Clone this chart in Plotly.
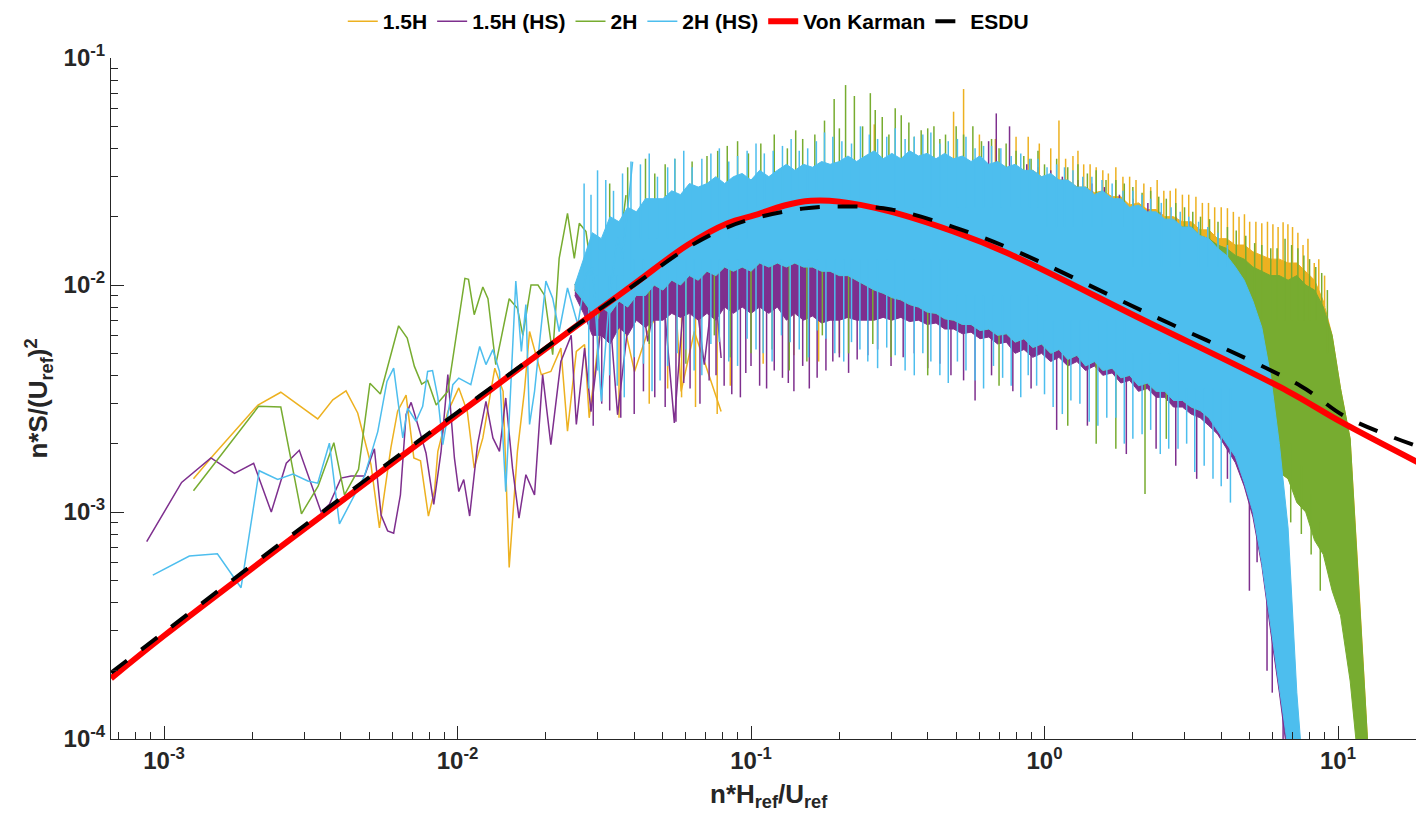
import plotly.graph_objects as go

# ---------------- data ----------------
# low-frequency (sparse) parts of each measured spectrum
x_15h = [1.26e-3, 1.48e-3, 2.09e-3, 2.50e-3, 3.34e-3, 3.76e-3, 4.17e-3, 4.57e-3, 5.07e-3, 5.42e-3,
         5.93e-3, 6.25e-3, 6.68e-3, 7.10e-3, 7.48e-3, 7.96e-3, 8.35e-3, 8.57e-3, 9.27e-3, 1.01e-2,
         1.08e-2, 1.14e-2, 1.22e-2, 1.34e-2, 1.43e-2, 1.50e-2, 1.60e-2, 1.69e-2, 1.76e-2, 1.93e-2,
         2.08e-2, 2.25e-2, 2.37e-2, 2.54e-2, 2.71e-2, 2.81e-2, 3.09e-2, 3.34e-2, 3.61e-2, 4.01e-2,
         4.45e-2, 4.94e-2, 5.48e-2, 5.78e-2, 6.41e-2, 7.91e-2]
y_15h = [1.40e-3, 1.79e-3, 2.96e-3, 3.37e-3, 2.57e-3, 3.12e-3, 3.42e-3, 2.73e-3, 1.62e-3, 8.51e-4,
         1.92e-3, 2.78e-3, 3.27e-3, 1.73e-3, 1.68e-3, 9.59e-4, 1.24e-3, 1.85e-3, 2.77e-3, 3.52e-3,
         2.77e-3, 1.56e-3, 2.12e-3, 4.30e-3, 3.40e-3, 5.70e-4, 1.85e-3, 3.40e-3, 6.24e-3, 4.03e-3,
         4.16e-3, 5.27e-3, 2.27e-3, 5.10e-3, 5.46e-3, 2.60e-3, 7.10e-3, 6.70e-3, 7.60e-3, 4.16e-3,
         6.24e-3, 7.90e-3, 1.04e-2, 3.40e-3, 6.24e-3, 2.77e-3]

x_15h_hs = [8.73e-4, 1.148e-3, 1.445e-3, 1.738e-3, 2.02e-3, 2.32e-3, 2.61e-3, 2.89e-3, 3.43e-3, 3.66e-3,
            4.01e-3, 4.34e-3, 4.82e-3, 5.21e-3, 5.49e-3, 5.78e-3, 6.06e-3, 6.39e-3, 6.68e-3, 6.95e-3,
            7.32e-3, 7.81e-3, 8.30e-3, 8.79e-3, 9.27e-3, 9.76e-3, 1.01e-2, 1.05e-2, 1.10e-2, 1.17e-2,
            1.25e-2, 1.32e-2, 1.39e-2, 1.46e-2, 1.54e-2, 1.62e-2, 1.71e-2, 1.83e-2, 1.95e-2, 2.08e-2,
            2.25e-2, 2.44e-2, 2.54e-2, 2.71e-2, 2.85e-2, 3.09e-2, 3.29e-2, 3.51e-2, 3.80e-2, 4.22e-2,
            4.45e-2, 4.81e-2, 5.07e-2, 5.48e-2, 5.93e-2, 6.41e-2, 6.93e-2, 7.50e-2, 7.91e-2]
y_15h_hs = [7.4e-4, 1.35e-3, 1.73e-3, 1.48e-3, 1.64e-3, 1.00e-3, 1.64e-3, 1.87e-3, 1.00e-3, 1.08e-3,
            1.41e-3, 1.44e-3, 1.44e-3, 1.90e-3, 9.7e-4, 8.26e-4, 8.07e-4, 1.19e-3, 2.69e-3, 3.04e-3,
            2.43e-3, 1.82e-3, 1.08e-3, 1.85e-3, 4.03e-3, 1.73e-3, 1.23e-3, 1.39e-3, 9.6e-4, 1.98e-3,
            3.07e-3, 2.12e-3, 1.85e-3, 3.18e-3, 1.56e-3, 9.4e-4, 1.46e-3, 1.19e-3, 4.03e-3, 1.98e-3,
            4.60e-3, 6.00e-3, 2.43e-3, 5.27e-3, 2.77e-3, 6.70e-3, 7.90e-3, 2.68e-3, 6.46e-3, 9.35e-3,
            5.64e-3, 1.00e-2, 7.90e-3, 2.47e-3, 9.35e-3, 1.00e-2, 4.46e-3, 1.07e-2, 4.77e-3]

x_2h = [1.26e-3, 2.10e-3, 2.50e-3, 2.94e-3, 3.35e-3, 3.79e-3, 4.12e-3, 4.60e-3, 5.03e-3, 5.46e-3,
        6.30e-3, 6.74e-3, 7.13e-3, 7.55e-3, 7.91e-3, 8.46e-3, 9.27e-3, 1.00e-2, 1.06e-2, 1.09e-2,
        1.14e-2, 1.22e-2, 1.27e-2, 1.35e-2, 1.50e-2, 1.60e-2, 1.67e-2, 1.78e-2, 1.88e-2, 1.98e-2,
        2.11e-2, 2.22e-2, 2.37e-2, 2.50e-2, 2.60e-2, 2.74e-2, 2.85e-2, 3.01e-2, 3.34e-2, 3.56e-2,
        3.75e-2]
y_2h = [1.24e-3, 2.92e-3, 2.90e-3, 9.82e-4, 1.30e-3, 2.02e-3, 1.19e-3, 1.54e-3, 3.69e-3, 3.31e-3,
        6.61e-3, 5.83e-3, 4.38e-3, 3.66e-3, 3.80e-3, 2.96e-3, 3.40e-3, 6.70e-3, 1.07e-2, 1.06e-2,
        7.40e-3, 9.80e-3, 8.70e-3, 4.46e-3, 8.70e-3, 7.90e-3, 6.00e-3, 1.00e-2, 1.00e-2, 9.00e-3,
        4.93e-3, 1.31e-2, 2.07e-2, 1.31e-2, 1.87e-2, 1.72e-2, 1.19e-2, 7.10e-3, 1.31e-2, 1.45e-2,
        2.49e-2]

x_2h_hs = [9.16e-4, 1.22e-3, 1.52e-3, 1.83e-3, 2.11e-3, 2.44e-3, 2.75e-3, 3.09e-3, 3.34e-3, 3.66e-3,
           3.96e-3, 4.34e-3, 4.82e-3, 5.35e-3, 5.75e-3, 6.06e-3, 6.51e-3, 6.76e-3, 7.22e-3, 7.61e-3,
           7.91e-3, 8.22e-3, 8.57e-3, 8.91e-3, 9.64e-3, 1.01e-2, 1.11e-2, 1.19e-2, 1.25e-2, 1.32e-2,
           1.39e-2, 1.46e-2, 1.58e-2, 1.65e-2, 1.71e-2, 1.76e-2, 1.83e-2, 2.00e-2, 2.11e-2, 2.22e-2,
           2.37e-2, 2.57e-2, 2.74e-2, 2.89e-2, 3.09e-2, 3.29e-2, 3.51e-2, 3.65e-2, 3.95e-2]
y_2h_hs = [5.27e-4, 6.40e-4, 6.55e-4, 4.64e-4, 1.52e-3, 1.39e-3, 1.47e-3, 1.37e-3, 1.34e-3, 2.01e-3,
           8.87e-4, 1.12e-3, 1.44e-3, 2.26e-3, 3.76e-3, 4.30e-3, 2.12e-3, 2.87e-3, 2.51e-3, 2.92e-3,
           4.16e-3, 4.20e-3, 3.20e-3, 1.98e-3, 3.64e-3, 3.89e-3, 3.64e-3, 5.36e-3, 4.46e-3, 5.19e-3,
           4.16e-3, 1.23e-3, 1.04e-2, 5.10e-3, 8.20e-3, 2.43e-3, 3.40e-3, 1.04e-2, 8.75e-3, 6.24e-3,
           9.70e-3, 6.70e-3, 1.11e-2, 1.19e-2, 3.07e-3, 8.75e-3, 1.61e-2, 1.31e-2, 3.49e-2]

# dense (high-frequency) parts: solid-core upper/lower bounds on a frequency grid
freq_grid = [0.0251, 0.0269, 0.0288, 0.0309, 0.0331, 0.0355, 0.0380, 0.0407, 0.0437, 0.0468,
             0.0501, 0.0537, 0.0575, 0.0617, 0.0661, 0.0708, 0.0759, 0.0813, 0.0871, 0.0933,
             0.100, 0.107, 0.115, 0.123, 0.132, 0.141, 0.151, 0.162, 0.174, 0.186,
             0.200, 0.214, 0.229, 0.245, 0.263, 0.282, 0.302, 0.324, 0.347, 0.372,
             0.398, 0.427, 0.457, 0.490, 0.525, 0.562, 0.603, 0.646, 0.692, 0.741,
             0.794, 0.851, 0.912, 0.977, 1.05, 1.12, 1.20, 1.29, 1.38, 1.48,
             1.58, 1.70, 1.82, 1.95, 2.09, 2.24, 2.40, 2.57, 2.75, 2.95,
             3.16, 3.39, 3.63, 3.89, 4.17, 4.47, 4.79, 5.13, 5.50, 5.89,
             6.31, 6.76, 7.24, 7.76, 8.32, 8.91, 9.55, 10.2, 11.0, 11.7,
             12.6, 13.5]

hi_15h = [9.5e-3, 1.1e-2, 1.2e-2, 1.2e-2, 1.4e-2, 1.3e-2, 1.5e-2, 1.4e-2, 1.6e-2, 1.5e-2,
          1.7e-2, 1.6e-2, 1.8e-2, 1.7e-2, 1.9e-2, 1.8e-2, 2.0e-2, 1.9e-2, 2.1e-2, 2.0e-2,
          2.2e-2, 2.1e-2, 2.3e-2, 2.2e-2, 2.4e-2, 2.3e-2, 2.5e-2, 2.4e-2, 2.6e-2, 2.5e-2,
          2.7e-2, 2.6e-2, 2.8e-2, 2.7e-2, 2.9e-2, 2.8e-2, 3.0e-2, 2.9e-2, 3.1e-2, 3.0e-2,
          3.2e-2, 3.1e-2, 3.2e-2, 3.2e-2, 3.3e-2, 3.2e-2, 3.3e-2, 3.2e-2, 3.3e-2, 3.2e-2,
          3.3e-2, 3.1e-2, 3.2e-2, 3.0e-2, 3.05e-2, 2.9e-2, 2.9e-2, 2.7e-2, 2.7e-2, 2.55e-2,
          2.6e-2, 2.45e-2, 2.45e-2, 2.25e-2, 2.3e-2, 2.15e-2, 2.15e-2, 2.0e-2, 2.0e-2, 1.9e-2,
          1.9e-2, 1.75e-2, 1.75e-2, 1.6e-2, 1.6e-2, 1.5e-2, 1.5e-2, 1.4e-2, 1.35e-2, 1.3e-2,
          1.3e-2, 1.25e-2, 1.25e-2, 1.15e-2, 1.05e-2, 8.5e-3, 6.0e-3, 3.5e-3, 2.1e-3, 5.5e-4,
          1.0e-4, 4e-5]
lo_15h = [9.5e-3, 8.0e-3, 6.3e-3, 6.3e-3, 5.8e-3, 6.8e-3, 6.3e-3, 7.3e-3, 6.8e-3, 7.3e-3,
          7.3e-3, 7.8e-3, 7.5e-3, 7.8e-3, 7.3e-3, 7.8e-3, 7.3e-3, 8.4e-3, 7.8e-3, 8.4e-3,
          7.8e-3, 8.4e-3, 7.8e-3, 8.4e-3, 7.3e-3, 7.8e-3, 7.3e-3, 7.6e-3, 7.1e-3, 7.3e-3,
          7.3e-3, 7.5e-3, 7.3e-3, 7.3e-3, 7.3e-3, 7.5e-3, 7.3e-3, 7.5e-3, 7.2e-3, 7.3e-3,
          7.0e-3, 7.1e-3, 6.7e-3, 6.7e-3, 6.4e-3, 6.5e-3, 6.0e-3, 6.1e-3, 5.7e-3, 5.8e-3,
          5.3e-3, 5.5e-3, 5.0e-3, 5.3e-3, 4.8e-3, 5.0e-3, 4.6e-3, 4.8e-3, 4.4e-3, 4.6e-3,
          4.2e-3, 4.3e-3, 3.9e-3, 4.0e-3, 3.6e-3, 3.7e-3, 3.4e-3, 3.4e-3, 3.0e-3, 3.0e-3,
          2.8e-3, 2.7e-3, 2.5e-3, 2.3e-3, 2.0e-3, 1.8e-3, 1.7e-3, 1.6e-3, 1.6e-3, 1.5e-3,
          1.5e-3, 1.4e-3, 1.15e-3, 1.05e-3, 8.0e-4, 7.0e-4, 5.0e-4, 3.8e-4, 2.0e-4, 9e-5,
          5e-5, 4e-5]

hi_15h_hs = [1.0e-2, 1.1e-2, 1.2e-2, 1.3e-2, 1.3e-2, 1.4e-2, 1.5e-2, 1.5e-2, 1.6e-2, 1.7e-2,
             1.7e-2, 1.8e-2, 1.9e-2, 1.9e-2, 2.0e-2, 2.1e-2, 2.1e-2, 2.2e-2, 2.3e-2, 2.3e-2,
             2.4e-2, 2.4e-2, 2.5e-2, 2.5e-2, 2.6e-2, 2.6e-2, 2.7e-2, 2.7e-2, 2.8e-2, 2.8e-2,
             2.9e-2, 2.9e-2, 3.0e-2, 3.0e-2, 3.1e-2, 3.1e-2, 3.1e-2, 3.2e-2, 3.2e-2, 3.2e-2,
             3.2e-2, 3.2e-2, 3.2e-2, 3.2e-2, 3.2e-2, 3.2e-2, 3.2e-2, 3.2e-2, 3.2e-2, 3.2e-2,
             3.1e-2, 3.0e-2, 2.9e-2, 2.8e-2, 2.8e-2, 2.7e-2, 2.6e-2, 2.5e-2, 2.5e-2, 2.4e-2,
             2.3e-2, 2.3e-2, 2.2e-2, 2.1e-2, 2.1e-2, 2.0e-2, 1.95e-2, 1.85e-2, 1.8e-2, 1.7e-2,
             1.65e-2, 1.55e-2, 1.5e-2, 1.35e-2, 1.25e-2, 1.1e-2, 9.5e-3, 7.5e-3, 5.0e-3, 3.0e-3,
             1.4e-3, 4.0e-4, 6e-5]
lo_15h_hs = [9.0e-3, 7.5e-3, 6.0e-3, 6.0e-3, 5.5e-3, 6.5e-3, 6.0e-3, 7.0e-3, 6.5e-3, 7.0e-3,
             7.0e-3, 7.5e-3, 7.2e-3, 7.5e-3, 7.0e-3, 7.5e-3, 7.0e-3, 8.0e-3, 7.5e-3, 8.0e-3,
             7.5e-3, 8.0e-3, 7.5e-3, 8.0e-3, 7.0e-3, 7.5e-3, 7.0e-3, 7.3e-3, 6.8e-3, 7.0e-3,
             7.0e-3, 7.2e-3, 7.0e-3, 7.0e-3, 7.0e-3, 7.2e-3, 7.0e-3, 7.2e-3, 6.9e-3, 7.0e-3,
             6.7e-3, 6.8e-3, 6.4e-3, 6.4e-3, 6.1e-3, 6.2e-3, 5.8e-3, 5.9e-3, 5.5e-3, 5.6e-3,
             5.0e-3, 5.2e-3, 4.8e-3, 5.0e-3, 4.6e-3, 4.8e-3, 4.4e-3, 4.6e-3, 4.2e-3, 4.4e-3,
             4.0e-3, 4.1e-3, 3.7e-3, 3.8e-3, 3.4e-3, 3.5e-3, 3.2e-3, 3.2e-3, 2.9e-3, 2.9e-3,
             2.7e-3, 2.6e-3, 2.4e-3, 2.2e-3, 1.9e-3, 1.65e-3, 1.3e-3, 9.5e-4, 5.8e-4, 3.0e-4,
             1.6e-4, 8e-5, 5e-5]

hi_2h = [1.0e-2, 1.2e-2, 1.6e-2, 1.5e-2, 1.9e-2, 1.8e-2, 2.1e-2, 2.0e-2, 2.3e-2, 2.3e-2,
         2.3e-2, 2.5e-2, 2.4e-2, 2.7e-2, 2.6e-2, 2.7e-2, 2.9e-2, 2.7e-2, 2.9e-2, 3.0e-2,
         2.8e-2, 3.1e-2, 2.9e-2, 3.1e-2, 3.3e-2, 3.1e-2, 3.3e-2, 3.2e-2, 3.4e-2, 3.3e-2,
         3.4e-2, 3.6e-2, 3.4e-2, 3.6e-2, 3.8e-2, 3.5e-2, 3.7e-2, 3.5e-2, 3.8e-2, 3.6e-2,
         3.7e-2, 3.5e-2, 3.7e-2, 3.5e-2, 3.6e-2, 3.4e-2, 3.6e-2, 3.3e-2, 3.4e-2, 3.2e-2,
         3.3e-2, 3.1e-2, 3.1e-2, 2.9e-2, 3.0e-2, 2.8e-2, 2.8e-2, 2.6e-2, 2.6e-2, 2.45e-2,
         2.5e-2, 2.35e-2, 2.35e-2, 2.15e-2, 2.2e-2, 2.05e-2, 2.05e-2, 1.9e-2, 1.9e-2, 1.8e-2,
         1.8e-2, 1.65e-2, 1.6e-2, 1.5e-2, 1.45e-2, 1.35e-2, 1.3e-2, 1.2e-2, 1.15e-2, 1.1e-2,
         1.1e-2, 1.05e-2, 1.1e-2, 1.0e-2, 9.5e-3, 8.0e-3, 6.0e-3, 3.5e-3, 2.1e-3, 5.5e-4,
         1.0e-4, 4e-5]
lo_2h = [9.5e-3, 8.5e-3, 7.5e-3, 8.0e-3, 7.5e-3, 8.5e-3, 8.0e-3, 9.0e-3, 9.0e-3, 1.0e-2,
         9.5e-3, 1.05e-2, 1.0e-2, 1.1e-2, 1.05e-2, 1.15e-2, 1.1e-2, 1.2e-2, 1.15e-2, 1.2e-2,
         1.15e-2, 1.25e-2, 1.2e-2, 1.25e-2, 1.2e-2, 1.25e-2, 1.2e-2, 1.2e-2, 1.15e-2, 1.15e-2,
         1.1e-2, 1.1e-2, 1.05e-2, 1.0e-2, 9.5e-3, 9.2e-3, 8.8e-3, 8.6e-3, 8.2e-3, 8.0e-3,
         7.6e-3, 7.5e-3, 7.1e-3, 7.0e-3, 6.7e-3, 6.7e-3, 6.3e-3, 6.4e-3, 6.0e-3, 6.1e-3,
         5.6e-3, 5.8e-3, 5.3e-3, 5.5e-3, 5.0e-3, 5.2e-3, 4.7e-3, 4.9e-3, 4.4e-3, 4.6e-3,
         4.2e-3, 4.3e-3, 3.9e-3, 4.0e-3, 3.6e-3, 3.7e-3, 3.4e-3, 3.4e-3, 3.1e-3, 3.1e-3,
         2.9e-3, 2.8e-3, 2.6e-3, 2.4e-3, 2.2e-3, 2.0e-3, 1.9e-3, 1.8e-3, 1.6e-3, 1.6e-3,
         1.5e-3, 1.4e-3, 1.1e-3, 1.0e-3, 7.5e-4, 6.5e-4, 4.5e-4, 3.5e-4, 1.8e-4, 8e-5,
         5e-5, 4e-5]

hi_2h_hs = [1.0e-2, 1.3e-2, 1.7e-2, 1.6e-2, 2.0e-2, 1.9e-2, 2.2e-2, 2.1e-2, 2.4e-2, 2.4e-2,
            2.4e-2, 2.6e-2, 2.5e-2, 2.8e-2, 2.7e-2, 2.8e-2, 3.0e-2, 2.8e-2, 3.0e-2, 3.1e-2,
            2.9e-2, 3.2e-2, 3.0e-2, 3.2e-2, 3.4e-2, 3.2e-2, 3.4e-2, 3.3e-2, 3.5e-2, 3.4e-2,
            3.5e-2, 3.7e-2, 3.5e-2, 3.7e-2, 3.9e-2, 3.6e-2, 3.8e-2, 3.6e-2, 3.9e-2, 3.7e-2,
            3.8e-2, 3.6e-2, 3.8e-2, 3.6e-2, 3.7e-2, 3.5e-2, 3.7e-2, 3.4e-2, 3.5e-2, 3.3e-2,
            3.4e-2, 3.2e-2, 3.2e-2, 3.0e-2, 3.1e-2, 2.9e-2, 2.9e-2, 2.7e-2, 2.7e-2, 2.5e-2,
            2.6e-2, 2.4e-2, 2.4e-2, 2.2e-2, 2.25e-2, 2.1e-2, 2.1e-2, 1.95e-2, 1.95e-2, 1.8e-2,
            1.8e-2, 1.65e-2, 1.6e-2, 1.45e-2, 1.35e-2, 1.2e-2, 1.05e-2, 8.5e-3, 6.5e-3, 4.0e-3,
            2.0e-3, 8.5e-4, 1.6e-4, 5e-5]
lo_2h_hs = [9.5e-3, 8.5e-3, 7.5e-3, 8.0e-3, 7.5e-3, 8.5e-3, 8.0e-3, 9.0e-3, 9.0e-3, 1.0e-2,
            9.5e-3, 1.05e-2, 1.0e-2, 1.1e-2, 1.05e-2, 1.15e-2, 1.1e-2, 1.2e-2, 1.15e-2, 1.2e-2,
            1.15e-2, 1.25e-2, 1.2e-2, 1.25e-2, 1.2e-2, 1.25e-2, 1.2e-2, 1.2e-2, 1.15e-2, 1.15e-2,
            1.1e-2, 1.1e-2, 1.05e-2, 1.0e-2, 9.5e-3, 9.2e-3, 8.8e-3, 8.6e-3, 8.2e-3, 8.0e-3,
            7.6e-3, 7.5e-3, 7.1e-3, 7.0e-3, 6.7e-3, 6.7e-3, 6.3e-3, 6.4e-3, 6.0e-3, 6.1e-3,
            5.6e-3, 5.8e-3, 5.3e-3, 5.5e-3, 5.0e-3, 5.2e-3, 4.7e-3, 4.9e-3, 4.4e-3, 4.6e-3,
            4.2e-3, 4.3e-3, 3.9e-3, 4.0e-3, 3.6e-3, 3.7e-3, 3.4e-3, 3.4e-3, 3.1e-3, 3.1e-3,
            2.9e-3, 2.8e-3, 2.6e-3, 2.3e-3, 2.0e-3, 1.75e-3, 1.35e-3, 1.0e-3, 6.0e-4, 3.2e-4,
            1.7e-4, 9e-5, 5e-5, 5e-5]

# single spikes sticking out of the dense bands (x, inner end, outer end)
top_15h_x = [0.263, 0.49, 0.53, 0.60, 0.68, 0.80, 0.88, 0.96, 1.05, 1.12,
             1.18, 1.25, 1.3, 1.36, 1.43, 1.5, 1.58, 1.65, 1.75, 1.85,
             1.95, 2.05, 2.18, 2.3, 2.42, 2.55, 2.68, 2.8, 2.95, 3.1,
             3.28, 3.45, 3.62, 3.8, 4.0, 4.2, 4.4, 4.6, 4.8, 5.0,
             5.25, 5.5, 5.75, 6.0, 6.25, 6.5, 6.75, 7.0, 7.3, 7.6,
             7.9, 8.3, 8.6, 9.0]
top_15h_in = ([2.5e-2] * 8 + [2.2e-2] * 7 + [2.0e-2] * 8 + [1.7e-2] * 6 + [1.5e-2] * 5
              + [1.3e-2] * 7 + [1.15e-2] * 6 + [1.0e-2] * 4 + [8e-3] * 3)
top_15h_out = [5.1e-2, 5.8e-2, 7.3e-2, 4.6e-2, 4.4e-2, 4.5e-2, 4.5e-2, 4.2e-2, 4.0e-2, 5.3e-2,
               3.6e-2, 3.7e-2, 3.9e-2, 3.4e-2, 3.4e-2, 3.3e-2, 3.2e-2, 3.1e-2, 3.3e-2, 3.0e-2,
               3.0e-2, 2.9e-2, 2.8e-2, 2.7e-2, 2.9e-2, 2.6e-2, 2.6e-2, 2.66e-2, 2.5e-2, 2.5e-2,
               2.45e-2, 2.3e-2, 2.3e-2, 2.2e-2, 2.2e-2, 2.18e-2, 2.1e-2, 2.0e-2, 2.05e-2, 1.9e-2,
               1.9e-2, 1.87e-2, 1.9e-2, 1.85e-2, 1.8e-2, 1.89e-2, 1.85e-2, 1.8e-2, 1.7e-2, 1.5e-2,
               1.6e-2, 1.25e-2, 1.3e-2, 1.1e-2]
bot_15h_x = [0.0355, 0.045, 0.052, 0.058, 0.0647, 0.0767, 0.085, 0.11, 0.14, 0.17, 0.2]
bot_15h_in = [9e-3] * 11
bot_15h_out = [2.6e-3, 3.0e-3, 3.5e-3, 3.2e-3, 2.9e-3, 2.7e-3, 3.6e-3, 4.5e-3, 4.9e-3, 4.6e-3, 5.0e-3]

top_15h_hs_x = [0.60, 0.645, 0.685, 0.76, 0.87, 0.95, 1.05, 1.15, 1.3, 1.45,
                1.6, 1.8, 2.0, 2.25, 2.5, 2.8, 3.1, 3.5]
top_15h_hs_in = [2.0e-2] * 8 + [1.6e-2] * 5 + [1.3e-2] * 5
top_15h_hs_out = [3.7e-2, 4.3e-2, 5.7e-2, 5.0e-2, 3.4e-2, 3.3e-2, 3.2e-2, 3.0e-2, 2.9e-2, 2.8e-2,
                  2.7e-2, 2.5e-2, 2.4e-2, 2.3e-2, 2.1e-2, 2.0e-2, 1.9e-2, 1.6e-2]
bot_15h_hs_x = [0.029, 0.033, 0.040, 0.047, 0.0555, 0.062, 0.072, 0.081, 0.092, 0.100,
                0.113, 0.128, 0.14, 0.158, 0.18, 0.2, 0.23, 0.27, 0.33, 0.40,
                0.48, 0.58, 0.66, 0.78, 0.9, 1.1, 1.4, 1.9, 2.4, 2.8,
                3.3, 4.2, 4.99, 5.3, 5.73, 5.97, 6.5,
                0.031, 0.036, 0.043, 0.051, 0.059, 0.067, 0.076, 0.086, 0.096, 0.107,
                0.12, 0.134, 0.15, 0.168, 0.19, 0.215, 0.25, 0.3, 0.36, 0.44, 0.53]
bot_15h_hs_in = ([9e-3] * 18 + [7.5e-3] * 4 + [6e-3] * 4 + [5e-3] * 2 + [3.8e-3] * 3
                 + [2.5e-3, 1.5e-3, 1.2e-3, 7e-4, 5e-4, 3e-4]
                 + [9e-3] * 18 + [7.5e-3] * 3)
bot_15h_hs_out = [2.4e-3, 2.8e-3, 2.7e-3, 3.2e-3, 2.5e-3, 3.5e-3, 3.8e-3, 3.6e-3, 3.2e-3, 4.4e-3,
                  3.5e-3, 3.9e-3, 3.4e-3, 3.5e-3, 4.2e-3, 4.8e-3, 4.7e-3, 5.2e-3, 4.8e-3, 4.3e-3,
                  4.0e-3, 3.1e-3, 4.0e-3, 3.4e-3, 3.5e-3, 2.3e-3, 2.4e-3, 1.8e-3, 1.9e-3, 1.6e-3,
                  1.4e-3, 1.4e-3, 4.5e-4, 6.0e-4, 2.0e-4, 1.6e-4, 9.0e-5,
                  3.0e-3, 2.6e-3, 3.4e-3, 2.9e-3, 3.7e-3, 3.0e-3, 4.0e-3, 3.3e-3, 4.1e-3, 3.6e-3,
                  4.2e-3, 3.7e-3, 4.4e-3, 3.9e-3, 4.6e-3, 4.1e-3, 4.9e-3, 4.4e-3, 5.0e-3, 4.5e-3, 3.8e-3]

top_2h_x = [0.0437, 0.047, 0.055, 0.0708, 0.083, 0.098, 0.12, 0.133, 0.15, 0.165,
            0.192, 0.210, 0.225, 0.24, 0.255, 0.28, 0.31, 0.345, 0.38, 0.42,
            0.46, 0.50, 0.57, 0.66, 0.74, 0.85, 0.95, 1.1, 1.3, 1.5,
            1.75, 2.0, 2.3, 2.6, 3.0, 3.4, 3.9, 4.5, 5.2, 5.9,
            6.6, 7.3, 8.0, 8.8,
            0.033, 0.038, 0.051, 0.063, 0.077, 0.09, 0.108, 0.142, 0.178, 0.2,
            0.265, 0.295, 0.325, 0.36, 0.4, 0.44, 0.53, 0.61, 0.7, 0.8,
            0.9, 1.0, 1.2, 1.4, 1.62, 1.87, 2.15, 2.45, 2.8, 3.2,
            3.65, 4.2, 4.85, 5.5, 6.2, 6.95, 7.65, 8.4, 9.2]
top_2h_in = ([1.8e-2] * 6 + [2.2e-2] * 21 + [1.8e-2] * 4 + [1.3e-2] * 6 + [7e-3] * 7
             + [1.5e-2] * 6 + [2.2e-2] * 15 + [1.8e-2] * 5 + [1.3e-2] * 5 + [7e-3] * 7 + [5e-3])
top_2h_out = [3.6e-2, 3.1e-2, 3.6e-2, 3.7e-2, 4.1e-2, 3.8e-2, 4.6e-2, 4.0e-2, 4.4e-2, 4.6e-2,
              6.6e-2, 7.6e-2, 6.8e-2, 5.0e-2, 7.0e-2, 5.5e-2, 6.0e-2, 5.2e-2, 4.8e-2, 5.0e-2,
              4.6e-2, 5.0e-2, 5.0e-2, 4.4e-2, 4.2e-2, 3.7e-2, 3.9e-2, 3.6e-2, 3.4e-2, 3.2e-2,
              2.9e-2, 2.7e-2, 2.6e-2, 2.4e-2, 2.2e-2, 2.0e-2, 1.9e-2, 1.74e-2, 1.53e-2, 1.45e-2,
              1.6e-2, 1.45e-2, 1.3e-2, 1.13e-2,
              2.8e-2, 3.3e-2, 3.4e-2, 3.5e-2, 3.9e-2, 4.3e-2, 4.2e-2, 4.8e-2, 5.3e-2, 4.9e-2,
              5.9e-2, 4.6e-2, 5.6e-2, 4.5e-2, 4.9e-2, 4.4e-2, 4.6e-2, 4.3e-2, 4.0e-2, 3.9e-2,
              3.6e-2, 3.4e-2, 3.3e-2, 3.1e-2, 2.9e-2, 2.8e-2, 2.55e-2, 2.45e-2, 2.3e-2, 2.1e-2,
              1.95e-2, 1.8e-2, 1.65e-2, 1.5e-2, 1.45e-2, 1.5e-2, 1.35e-2, 1.2e-2, 9.5e-3]
bot_2h_x = [0.06, 0.1, 0.135, 0.4, 0.7, 1.2, 1.5, 1.75, 2.2, 2.6, 6.9, 7.5, 8.1, 8.7,
            0.045, 0.075, 0.085, 0.118, 0.155, 0.175, 0.215, 0.26, 0.3]
bot_2h_in = [1.4e-2, 1.4e-2, 1.4e-2, 9e-3, 8.5e-3, 7.5e-3, 7e-3, 6e-3, 5.5e-3, 5e-3,
             2e-3, 1.6e-3, 1.2e-3, 9e-4] + [1.4e-2] * 9
bot_2h_out = [4.5e-3, 5.0e-3, 4.2e-3, 4.0e-3, 3.6e-3, 2.4e-3, 2.0e-3, 1.9e-3, 1.2e-3, 2.1e-3,
              9e-4, 8e-4, 6.5e-4, 4.5e-4,
              5.5e-3, 6.0e-3, 4.8e-3, 5.2e-3, 4.6e-3, 6.0e-3, 5.0e-3, 5.5e-3, 4.8e-3]

top_2h_hs_x = [0.027, 0.030, 0.034, 0.039, 0.045, 0.052, 0.059, 0.068, 0.078, 0.090,
               0.104, 0.119, 0.137, 0.156, 0.178, 0.204, 0.236, 0.27, 0.31, 0.36,
               0.41, 0.47, 0.54, 0.62, 0.71, 0.83, 0.95, 1.1, 1.25, 1.45,
               1.7, 2.0, 2.3, 2.7, 3.1, 3.6, 4.2,
               0.0285, 0.032, 0.0365, 0.042, 0.048, 0.055, 0.063, 0.073, 0.084, 0.097,
               0.111, 0.128, 0.146, 0.167, 0.19, 0.22, 0.253, 0.29, 0.335, 0.385,
               0.44, 0.505, 0.58, 0.66, 0.77, 0.89, 1.02, 1.17, 1.35, 1.57,
               1.85, 2.15, 2.5, 2.9, 3.35, 3.9]
top_2h_hs_in = ([1.1e-2] * 4 + [1.6e-2] * 6 + [2.2e-2] * 17 + [1.8e-2] * 4 + [1.2e-2] * 6
                + [1.1e-2] * 3 + [1.6e-2] * 7 + [2.2e-2] * 16 + [1.8e-2] * 5 + [1.2e-2] * 5)
top_2h_hs_out = [2.8e-2, 3.2e-2, 2.6e-2, 3.5e-2, 3.8e-2, 3.3e-2, 3.9e-2, 3.6e-2, 4.0e-2, 3.7e-2,
                 4.2e-2, 3.9e-2, 4.4e-2, 4.0e-2, 4.7e-2, 4.3e-2, 5.0e-2, 4.4e-2, 4.9e-2, 4.5e-2,
                 4.7e-2, 4.3e-2, 4.5e-2, 4.1e-2, 4.0e-2, 3.8e-2, 3.6e-2, 3.4e-2, 3.2e-2, 3.0e-2,
                 2.8e-2, 2.6e-2, 2.4e-2, 2.2e-2, 2.0e-2, 1.8e-2, 1.5e-2,
                 2.5e-2, 2.9e-2, 3.1e-2, 3.4e-2, 3.0e-2, 3.6e-2, 3.3e-2, 3.8e-2, 3.5e-2, 3.9e-2,
                 3.8e-2, 4.1e-2, 3.9e-2, 4.3e-2, 4.5e-2, 4.2e-2, 4.6e-2, 4.5e-2, 4.4e-2, 4.6e-2,
                 4.2e-2, 4.4e-2, 4.0e-2, 4.1e-2, 3.7e-2, 3.6e-2, 3.3e-2, 3.3e-2, 3.0e-2, 2.9e-2,
                 2.6e-2, 2.5e-2, 2.3e-2, 2.1e-2, 1.9e-2, 1.7e-2]
bot_2h_hs_x = [0.028, 0.033, 0.037, 0.043, 0.049, 0.056, 0.064, 0.073, 0.084, 0.097,
               0.11, 0.127, 0.146, 0.168, 0.193, 0.22, 0.25, 0.29, 0.335, 0.385,
               0.44, 0.505, 0.58, 0.67, 0.77, 0.88, 1.0, 1.15, 1.32, 1.52,
               1.75, 2.0, 2.3, 2.65, 3.05, 3.5, 4.0,
               0.03, 0.035, 0.04, 0.046, 0.052, 0.06, 0.068, 0.078, 0.09, 0.104,
               0.118, 0.136, 0.157, 0.18, 0.207, 0.235, 0.27, 0.31, 0.36, 0.41,
               0.47, 0.54, 0.62, 0.72, 0.83, 0.94, 1.07, 1.23, 1.42, 1.63,
               1.87, 2.15, 2.48, 2.85, 3.25, 3.75, 4.3]
bot_2h_hs_in = ([1.1e-2] * 3 + [1.3e-2] * 7 + [1.3e-2] * 11 + [9e-3] * 5 + [7e-3] * 5
                + [5e-3] * 3 + [3.5e-3] * 3
                + [1.1e-2] * 2 + [1.3e-2] * 7 + [1.3e-2] * 12 + [9e-3] * 5 + [7e-3] * 5
                + [5e-3] * 3 + [3.5e-3] * 3)
bot_2h_hs_out = [3.5e-3, 4.0e-3, 3.2e-3, 4.5e-3, 3.8e-3, 5.0e-3, 4.2e-3, 5.5e-3, 4.6e-3, 5.8e-3,
                 5.0e-3, 6.0e-3, 5.2e-3, 6.3e-3, 5.0e-3, 5.6e-3, 4.6e-3, 5.3e-3, 4.2e-3, 5.0e-3,
                 4.0e-3, 4.6e-3, 3.8e-3, 4.4e-3, 3.6e-3, 4.0e-3, 3.3e-3, 2.7e-3, 3.0e-3, 2.4e-3,
                 2.6e-3, 2.1e-3, 2.3e-3, 1.9e-3, 2.0e-3, 1.6e-3, 1.3e-3,
                 4.2e-3, 3.6e-3, 4.8e-3, 3.4e-3, 4.4e-3, 5.2e-3, 4.0e-3, 5.6e-3, 4.4e-3, 5.2e-3,
                 4.6e-3, 5.6e-3, 4.8e-3, 5.8e-3, 4.6e-3, 5.2e-3, 4.3e-3, 4.9e-3, 4.0e-3, 4.6e-3,
                 3.7e-3, 4.2e-3, 3.5e-3, 3.9e-3, 3.2e-3, 3.6e-3, 2.9e-3, 3.1e-3, 2.5e-3, 2.6e-3,
                 2.0e-3, 2.2e-3, 1.8e-3, 1.9e-3, 1.5e-3, 1.4e-3, 1.1e-3]

# reference spectra
x_vk = [6.6e-4, 1.0e-3, 3.0e-3, 1.0e-2, 0.0257, 0.04, 0.0608, 0.0833, 0.103, 0.13,
        0.16, 0.2, 0.292, 0.489, 0.75, 2.13, 6.73, 10.2, 19.7]
y_vk = [1.85e-4, 2.85e-4, 8.4e-4, 2.69e-3, 6.67e-3, 1.01e-2, 1.50e-2, 1.87e-2, 2.03e-2, 2.24e-2,
        2.35e-2, 2.33e-2, 2.12e-2, 1.72e-2, 1.38e-2, 7.1e-3, 3.41e-3, 2.5e-3, 1.6e-3]
x_esdu = [6.6e-4, 1.0e-3, 3.0e-3, 1.0e-2, 0.0257, 0.04, 0.0608, 0.08, 0.1, 0.15,
          0.2, 0.3, 0.49, 0.79, 2.13, 7.46, 10.6, 19.4]
y_esdu = [1.96e-4, 2.95e-4, 8.7e-4, 2.75e-3, 6.7e-3, 1.0e-2, 1.46e-2, 1.76e-2, 1.95e-2, 2.17e-2,
          2.22e-2, 2.15e-2, 1.80e-2, 1.42e-2, 7.75e-3, 3.59e-3, 2.63e-3, 1.91e-3]

# axis ticks
x_tickvals = [1e-3, 1e-2, 1e-1, 1e0, 1e1]
x_ticktext = ["10<sup>-3</sup>", "10<sup>-2</sup>", "10<sup>-1</sup>", "10<sup>0</sup>", "10<sup>1</sup>"]
y_tickvals = [1e-4, 1e-3, 1e-2, 1e-1]
y_ticktext = ["10<sup>-4</sup>", "10<sup>-3</sup>", "10<sup>-2</sup>", "10<sup>-1</sup>"]
x_minor = [7e-4, 8e-4, 9e-4, 2e-3, 3e-3, 4e-3, 5e-3, 6e-3, 7e-3, 8e-3, 9e-3,
           0.02, 0.03, 0.04, 0.05, 0.06, 0.07, 0.08, 0.09,
           0.2, 0.3, 0.4, 0.5, 0.6, 0.7, 0.8, 0.9,
           2, 3, 4, 5, 6, 7, 8, 9]
y_minor = [2e-4, 3e-4, 4e-4, 5e-4, 6e-4, 7e-4, 8e-4, 9e-4,
           2e-3, 3e-3, 4e-3, 5e-3, 6e-3, 7e-3, 8e-3, 9e-3,
           0.02, 0.03, 0.04, 0.05, 0.06, 0.07, 0.08, 0.09]

series = [
    ("1.5H", "#EDB120", x_15h, y_15h, hi_15h, lo_15h,
     [(top_15h_x, top_15h_in, top_15h_out), (bot_15h_x, bot_15h_in, bot_15h_out)]),
    ("1.5H (HS)", "#7E2F8E", x_15h_hs, y_15h_hs, hi_15h_hs, lo_15h_hs,
     [(top_15h_hs_x, top_15h_hs_in, top_15h_hs_out), (bot_15h_hs_x, bot_15h_hs_in, bot_15h_hs_out)]),
    ("2H", "#77AC30", x_2h, y_2h, hi_2h, lo_2h,
     [(top_2h_x, top_2h_in, top_2h_out), (bot_2h_x, bot_2h_in, bot_2h_out)]),
    ("2H (HS)", "#4DBEEE", x_2h_hs, y_2h_hs, hi_2h_hs, lo_2h_hs,
     [(top_2h_hs_x, top_2h_hs_in, top_2h_hs_out), (bot_2h_hs_x, bot_2h_hs_in, bot_2h_hs_out)]),
]

FONT = "Liberation Sans, Arial, Helvetica, sans-serif"
AX = "#262626"

fig = go.Figure()
for name, col, xs, ys, hi, lo, spikes in series:
    assert len(xs) == len(ys), name
    assert len(hi) == len(lo), name
    g = freq_grid[:len(hi)]
    fig.add_trace(go.Scatter(
        x=g + g[::-1], y=hi + lo[::-1], mode="lines", fill="toself",
        fillcolor=col, line=dict(color=col, width=1), legendgroup=name,
        showlegend=False, hoverinfo="skip"))
    segx, segy = [], []
    for sx, sa, sb in spikes:
        assert len(sx) == len(sa) == len(sb), (name, len(sx), len(sa), len(sb))
        for xv, a, b in zip(sx, sa, sb):
            segx += [xv, xv, None]
            segy += [a, b, None]
    fig.add_trace(go.Scatter(
        x=segx, y=segy, mode="lines", line=dict(color=col, width=1.5),
        legendgroup=name, showlegend=False, hoverinfo="skip", connectgaps=False))
    fig.add_trace(go.Scatter(
        x=xs, y=ys, mode="lines", name=name, legendgroup=name,
        line=dict(color=col, width=1.5)))

fig.add_trace(go.Scatter(x=x_vk, y=y_vk, mode="lines", name="Von Karman",
                         line=dict(color="#FF0000", width=6, shape="spline", smoothing=1.0)))
fig.add_trace(go.Scatter(x=x_esdu, y=y_esdu, mode="lines", name="ESDU",
                         line=dict(color="#000000", width=4, dash="20px,18px",
                                   shape="spline", smoothing=1.0)))

axis_common = dict(
    type="log", showline=True, linecolor=AX, linewidth=1, mirror=False,
    showgrid=False, zeroline=False, ticks="inside", ticklen=13, tickwidth=1,
    tickcolor=AX, tickfont=dict(family=FONT, size=24, color=AX, weight="bold"),
    tickmode="array",
)
fig.update_xaxes(**axis_common, range=[-3.1806, 1.2998],
                 tickvals=x_tickvals, ticktext=x_ticktext,
                 minor=dict(tickmode="array", tickvals=x_minor, ticks="inside",
                            ticklen=7, tickwidth=1, tickcolor=AX, showgrid=False))
fig.update_yaxes(**axis_common, range=[-4, -1],
                 tickvals=y_tickvals, ticktext=y_ticktext,
                 minor=dict(tickmode="array", tickvals=y_minor, ticks="inside",
                            ticklen=7, tickwidth=1, tickcolor=AX, showgrid=False))

fig.update_layout(
    width=1424, height=816,
    margin=dict(l=103, r=6, t=49.5, b=84.5, autoexpand=False),
    paper_bgcolor="white", plot_bgcolor="white",
    font=dict(family=FONT, color=AX),
    showlegend=True,
    legend=dict(orientation="h", x=0.439, xanchor="center", y=1.0535, yanchor="middle",
                font=dict(family=FONT, size=21, color="#000000", weight="bold"),
                bgcolor="rgba(255,255,255,0)", traceorder="normal"),
    annotations=[
        dict(text="n*H<sub>ref</sub>/U<sub>ref</sub>", xref="paper", yref="paper",
             x=0.5, y=-0.056, xanchor="center", yanchor="top", showarrow=False,
             font=dict(family=FONT, size=26, color=AX, weight="bold")),
        dict(text="n*S/(U<sub>ref</sub>)<sup>2</sup>", xref="paper", yref="paper",
             x=-0.0555, y=0.5, xanchor="center", yanchor="middle", showarrow=False,
             textangle=-90, font=dict(family=FONT, size=26, color=AX, weight="bold")),
    ],
)

fig.write_html("out.html")
